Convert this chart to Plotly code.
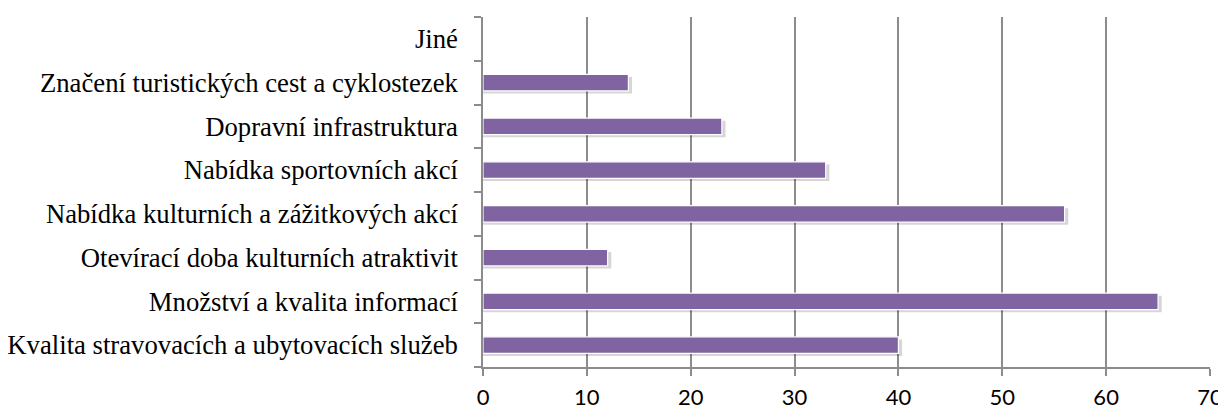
import plotly.graph_objects as go

categories = [
    "Kvalita stravovacích a ubytovacích služeb",
    "Množství a kvalita informací",
    "Otevírací doba kulturních atraktivit",
    "Nabídka kulturních a zážitkových akcí",
    "Nabídka sportovních akcí",
    "Dopravní infrastruktura",
    "Značení turistických cest a cyklostezek",
    "Jiné",
]
values = [40, 65, 12, 56, 33, 23, 14, 0]
x_ticks = [0, 10, 20, 30, 40, 50, 60, 70]

fig = go.Figure()
# soft shadow under each bar
fig.add_trace(go.Bar(
    y=categories, x=[v + 0.35 if v > 0 else 0 for v in values], orientation="h",
    marker=dict(color="rgba(0,0,0,0.16)", line=dict(width=0)),
    width=0.38, offset=-0.25, hoverinfo="skip",
))
fig.add_trace(go.Bar(
    y=categories, x=values, orientation="h",
    marker=dict(color="#8064A2", line=dict(color="white", width=1.2)),
    width=0.38, offset=-0.19,
))

fig.update_layout(
    width=1218, height=402,
    margin=dict(l=475, r=16, t=9, b=43),
    paper_bgcolor="white", plot_bgcolor="white",
    showlegend=False,
    barmode="overlay",
)
fig.update_xaxes(
    range=[0, 70], tickvals=x_ticks, showgrid=True, gridcolor="#8c8c8c", gridwidth=1.5,
    showline=True, linecolor="#8c8c8c", linewidth=1.5,
    ticks="outside", ticklen=7, tickcolor="#8c8c8c", tickwidth=1.5,
    ticklabelstandoff=3, automargin=False,
    tickfont=dict(family="Lato, Open Sans, sans-serif", size=22, color="black"),
    zeroline=False,
)
fig.update_yaxes(
    categoryorder="array", categoryarray=categories,
    range=[-0.5, 7.5],
    showline=True, linecolor="#8c8c8c", linewidth=1.5,
    ticks="outside", ticklen=7, tickcolor="#8c8c8c", tickwidth=1.5,
    tickson="boundaries", showgrid=False,
    ticklabelstandoff=18, automargin=False,
    tickfont=dict(family="Liberation Serif, Times New Roman, serif", size=26.7, color="black"),
)

fig.write_html("out.html")
